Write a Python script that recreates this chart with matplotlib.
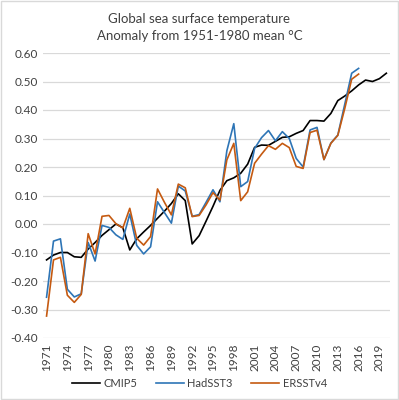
import numpy as np
import matplotlib
matplotlib.use("Agg")
import matplotlib.pyplot as plt
from matplotlib.patches import Rectangle

# annual anomalies (deg C) relative to 1951-1980
years = list(range(1971, 2021))
cmip5 = [-0.126, -0.109, -0.100, -0.100, -0.115, -0.117, -0.088, -0.065, -0.040, -0.020,
         0.000, -0.013, -0.091, -0.052, -0.028, -0.005, 0.020, 0.045, 0.072, 0.106,
         0.082, -0.070, -0.041, 0.010, 0.062, 0.118, 0.152, 0.162, 0.178, 0.210,
         0.269, 0.277, 0.276, 0.290, 0.304, 0.306, 0.318, 0.328, 0.363, 0.363,
         0.361, 0.388, 0.433, 0.449, 0.467, 0.488, 0.505, 0.500, 0.510, 0.529]
hadsst3 = [-0.257, -0.060, -0.052, -0.229, -0.256, -0.245, -0.065, -0.130, -0.005, -0.012,
           -0.038, -0.054, 0.035, -0.075, -0.105, -0.080, 0.078, 0.040, 0.003, 0.133,
           0.116, 0.027, 0.033, 0.076, 0.120, 0.078, 0.257, 0.352, 0.131, 0.149,
           0.265, 0.303, 0.328, 0.292, 0.324, 0.300, 0.230, 0.200, 0.330, 0.339,
           0.226, 0.284, 0.312, 0.420, 0.529, 0.546]
ersstv4 = [-0.323, -0.126, -0.117, -0.250, -0.275, -0.247, -0.034, -0.105, 0.027, 0.030,
           0.001, -0.014, 0.055, -0.050, -0.074, -0.044, 0.123, 0.076, 0.032, 0.140,
           0.127, 0.026, 0.030, 0.067, 0.110, 0.084, 0.225, 0.283, 0.082, 0.113,
           0.213, 0.245, 0.275, 0.262, 0.283, 0.268, 0.202, 0.195, 0.321, 0.329,
           0.226, 0.283, 0.311, 0.405, 0.508, 0.526]
tick_years = list(range(1971, 2020, 3))
yticks = [-0.4, -0.3, -0.2, -0.1, 0.0, 0.1, 0.2, 0.3, 0.4, 0.5, 0.6]

plt.rcParams['font.family'] = ['Lato', 'DejaVu Sans']
txt = '#404040'

fig = plt.figure(figsize=(3.99, 4.0), dpi=100)
ax = fig.add_axes([0.108, 0.155, 0.869, 0.7125])

ax.plot(years, cmip5, color='black', lw=1.2, label='CMIP5')
ax.plot(years[:len(hadsst3)], hadsst3, color='#2E75B6', lw=1.2, label='HadSST3')
ax.plot(years[:len(ersstv4)], ersstv4, color='#C55A11', lw=1.2, label='ERSSTv4')

ax.set_xlim(1970.5, 2020.5)
ax.set_ylim(-0.4, 0.6)
ax.set_yticks(yticks)
ax.set_yticklabels(['%.2f' % v for v in yticks])
ax.set_xticks(tick_years)
ax.set_xticklabels([str(y) for y in tick_years], rotation=90)
ax.tick_params(length=0, labelsize=8.5, colors=txt, pad=4)
ax.grid(axis='y', color='#D9D9D9', lw=0.9)
ax.set_axisbelow(True)
for s in ax.spines.values():
    s.set_visible(False)

fig.text(0.5, 0.931, 'Global sea surface temperature\nAnomaly from 1951-1980 mean °C',
         ha='center', va='center', fontsize=9.5, color=txt, linespacing=1.5)

fig.legend(loc='center', bbox_to_anchor=(0.5, 0.042), ncol=3, frameon=False,
           fontsize=8, handlelength=2.5, columnspacing=1.7, handletextpad=0.3,
           labelcolor=txt)

fig.patches.append(Rectangle((0.002, 0.002), 0.995, 0.995, transform=fig.transFigure,
                             fill=False, edgecolor='#D9D9D9', lw=1))

fig.savefig('out.png', dpi=100)
